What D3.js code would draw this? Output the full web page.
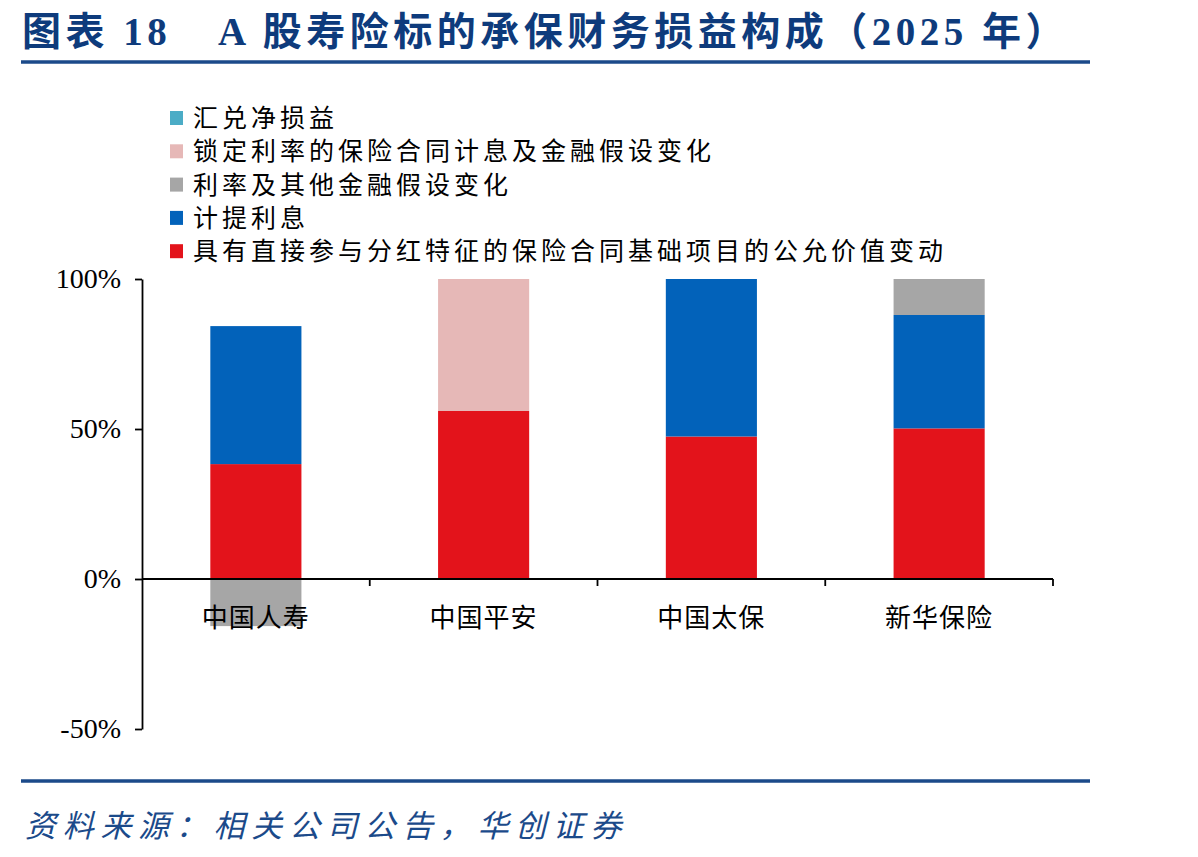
<!DOCTYPE html>
<html>
<head>
<meta charset="utf-8">
<script src="https://cdn.jsdelivr.net/npm/d3@7"></script>
<style>
  html, body { margin: 0; padding: 0; background: #fff; }
  svg { display: block; }
</style>
</head>
<body>
<svg id="chart" width="1198" height="857"></svg>
<script>
// categories and series (share of absolute total, %)
const companies = ["中国人寿", "中国平安", "中国太保", "新华保险"]
const seriesNames = [
  "具有直接参与分红特征的保险合同基础项目的公允价值变动",
  "计提利息",
  "利率及其他金融假设变化",
  "锁定利率的保险合同计息及金融假设变化",
  "汇兑净损益",
]
const fvChange = [38.3, 56.0, 47.5, 50.2]
const accruedInterest = [46.0, 0, 52.5, 37.8]
const rateAssumption = [-15.7, 0, 0, 12.0]
const lockedRate = [0, 44.0, 0, 0]
const fxGain = [0, 0, 0, 0]
const yTicks = [-50, 0, 50, 100]
const seriesColors = ["#E3131B", "#0262BA", "#A6A6A6", "#E6B8B7", "#4BACC6"]

const title1 = "图表 18"
const title2 = "A 股寿险标的承保财务损益构成（2025 年）"
const source = "资料来源：相关公司公告，华创证券"

const svg = d3.select("#chart")
const navy = "#1B4A8A"

// header
const th = svg.append("text")
  .attr("y", 45)
  .attr("fill", "#0E3B7C")
  .attr("font-size", 39)
  .attr("font-weight", "bold")
  .attr("letter-spacing", 4.5)
  .attr("font-family", "'Liberation Serif', 'Noto Sans CJK SC', serif")
th.append("tspan").attr("x", 22).text(title1)
th.append("tspan").attr("x", 218).text(title2)

svg.append("line")
  .attr("x1", 21).attr("x2", 1090).attr("y1", 62).attr("y2", 62)
  .attr("stroke", navy).attr("stroke-width", 3.5)

svg.append("line")
  .attr("x1", 21).attr("x2", 1090).attr("y1", 781).attr("y2", 781)
  .attr("stroke", navy).attr("stroke-width", 3.5)

svg.append("text")
  .attr("x", 25).attr("y", 837)
  .attr("fill", navy)
  .attr("font-size", 31)
  .attr("font-style", "italic")
  .attr("letter-spacing", 6.7)
  .attr("font-family", "'Noto Sans CJK SC', sans-serif")
  .text(source)

// data table
const rows = companies.map((c, i) => ({
  company: c,
  [seriesNames[0]]: fvChange[i],
  [seriesNames[1]]: accruedInterest[i],
  [seriesNames[2]]: rateAssumption[i],
  [seriesNames[3]]: lockedRate[i],
  [seriesNames[4]]: fxGain[i],
}))

const stacked = d3.stack()
  .keys(seriesNames)
  .offset(d3.stackOffsetDiverging)(rows)

const color = d3.scaleOrdinal().domain(seriesNames).range(seriesColors)

const x = d3.scaleBand().domain(companies).range([142, 1053]).paddingInner(0.6).paddingOuter(0.3)
const y = d3.scaleLinear().domain([-50, 100]).range([729, 279])

// bars
svg.append("g")
  .selectAll("g")
  .data(stacked)
  .join("g")
  .attr("fill", (d) => color(d.key))
  .selectAll("rect")
  .data((d) => d)
  .join("rect")
  .attr("x", (d) => x(d.data.company))
  .attr("width", x.bandwidth())
  .attr("y", (d) => y(Math.max(d[0], d[1])))
  .attr("height", (d) => Math.abs(y(d[0]) - y(d[1])))

// y axis
svg.append("g")
  .attr("transform", "translate(142,0)")
  .call(d3.axisLeft(y).tickValues(yTicks).tickSize(7).tickSizeOuter(0).tickPadding(14).tickFormat((d) => d + "%"))
  .call((g) => g.select(".domain").attr("stroke", "#000").attr("stroke-width", 1.8))
  .call((g) => g.selectAll(".tick line").attr("stroke", "#000").attr("stroke-width", 1.8))
  .call((g) => g.selectAll("text")
    .attr("fill", "#000")
    .attr("font-size", 28)
    .attr("font-family", "'Liberation Serif', serif"))

// x axis at zero with boundary ticks
const y0 = y(0)
const xg = svg.append("g")
xg.append("line")
  .attr("x1", 142).attr("x2", 1053).attr("y1", y0).attr("y2", y0)
  .attr("stroke", "#000").attr("stroke-width", 1.8)
const bounds = companies.map((c) => x(c) + x.bandwidth() / 2 + x.step() / 2)
xg.selectAll("line.b")
  .data(bounds)
  .join("line")
  .attr("class", "b")
  .attr("x1", (d) => d).attr("x2", (d) => d)
  .attr("y1", y0).attr("y2", y0 + 7)
  .attr("stroke", "#000").attr("stroke-width", 1.8)
xg.selectAll("text")
  .data(companies)
  .join("text")
  .attr("x", (d) => x(d) + x.bandwidth() / 2)
  .attr("y", 627)
  .attr("text-anchor", "middle")
  .attr("font-size", 26)
  .attr("letter-spacing", 1)
  .attr("font-family", "'Noto Sans CJK SC', sans-serif")
  .attr("fill", "#000")
  .text((d) => d)

// legend (top entry = last stacked series)
const legendItems = seriesNames.slice().reverse()
const lg = svg.append("g").attr("transform", "translate(170,118)")
const li = lg.selectAll("g")
  .data(legendItems)
  .join("g")
  .attr("transform", (d, i) => `translate(0,${i * 33.3})`)
li.append("rect")
  .attr("x", 0).attr("y", -7).attr("width", 13).attr("height", 14)
  .attr("fill", (d) => color(d))
li.append("text")
  .attr("x", 23).attr("y", 9)
  .attr("font-size", 25)
  .attr("letter-spacing", 4)
  .attr("font-family", "'Noto Sans CJK SC', sans-serif")
  .attr("fill", "#000")
  .text((d) => d)
</script>
</body>
</html>
